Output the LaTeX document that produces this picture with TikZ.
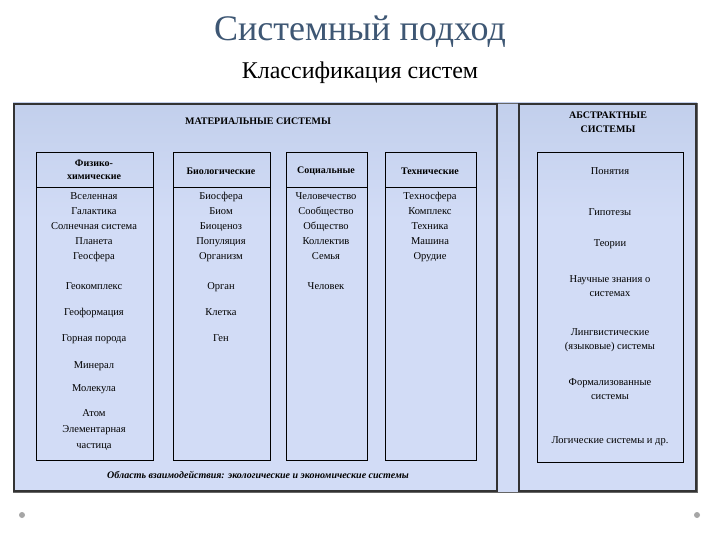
\documentclass[tikz,border=0pt]{standalone}
\usepackage{fontspec}
\setmainfont{Liberation Serif}
\definecolor{panelTop}{HTML}{A8BADB}
\definecolor{panelMid}{HTML}{D2DCF6}
\definecolor{panelBot}{HTML}{9FB2A0}
\definecolor{panelLow}{HTML}{BCC9D0}
\definecolor{titleC}{HTML}{3E5774}
\pgfdeclareverticalshading{panelsh}{100bp}{
  color(0bp)=(panelBot); color(10bp)=(panelLow); color(22bp)=(panelMid); color(60bp)=(panelMid); color(100bp)=(panelTop)}
\begin{document}
\begin{tikzpicture}[x=1pt,y=-1pt,
  panel/.style={draw=black!80,line width=1.2pt,shading=panelsh},
  colbox/.style={draw=black,line width=1pt},
  it/.style={font=\fontsize{10.5}{11}\selectfont,align=center,inner sep=0pt},
  hd/.style={font=\bfseries\fontsize{10}{11}\selectfont,align=center,inner sep=0pt}]
\useasboundingbox[fill=white] (0,0) rectangle (720,540);
\node[font=\fontsize{36}{40}\selectfont,text=titleC] (title) at (360,32) {Системный подход};
\node[font=\fontsize{24}{28}\selectfont] (sub) at (360,73) {Классификация систем};
\shade[draw=black!60,line width=0.8pt,shading=panelsh] (13,103) rectangle (697,492);
\shade[panel] (14,104) rectangle (497,491);
\shade[panel] (519,104) rectangle (696,491);
\node[hd] (mat) at (258,121) {МАТЕРИАЛЬНЫЕ СИСТЕМЫ};
\node[hd] (abs) at (608,122) {АБСТРАКТНЫЕ\\[3pt]СИСТЕМЫ};
\draw[colbox] (36,153) rectangle (153,460); \draw[colbox] (36,188) -- (153,188);
\draw[colbox] (173,153) rectangle (270,460); \draw[colbox] (173,188) -- (270,188);
\draw[colbox] (286,153) rectangle (367,460); \draw[colbox] (286,188) -- (367,188);
\draw[colbox] (385,153) rectangle (476,460); \draw[colbox] (385,188) -- (476,188);
\draw[colbox] (537,153) rectangle (683,462);
\node[hd] (h1) at (94,170) {Физико-\\[2pt]химические};
\node[hd] (h2) at (221,171) {Биологические};
\node[hd] (h3) at (326,171) {Социальные};
\node[hd] (h4) at (430,171) {Технические};
\foreach \t/\y [count=\i] in {Вселенная/197,Галактика/212,Солнечная система/227,Планета/242,Геосфера/257,Геокомплекс/287,Геоформация/313,Горная порода/339,Минерал/366,Молекула/389,Атом/414,Элементарная/430,частица/446}
  \node[it] (p\i) at (94,\y) {\strut\t};
\foreach \t/\y [count=\i] in {Биосфера/197,Биом/212,Биоценоз/227,Популяция/242,Организм/257,Орган/287,Клетка/313,Ген/339}
  \node[it] (b\i) at (221,\y) {\strut\t};
\foreach \t/\y [count=\i] in {Человечество/197,Сообщество/212,Общество/227,Коллектив/242,Семья/257,Человек/287}
  \node[it] (s\i) at (326,\y) {\strut\t};
\foreach \t/\y [count=\i] in {Техносфера/197,Комплекс/212,Техника/227,Машина/242,Орудие/257}
  \node[it] (t\i) at (430,\y) {\strut\t};
\node[it] (a1) at (610,171) {Понятия};
\node[it] (a2) at (610,212) {Гипотезы};
\node[it] (a3) at (610,244) {Теории};
\node[it] (a4) at (610,286) {Научные знания о\\[3pt]системах};
\node[it] (a5) at (610,340) {Лингвистические\\[3pt](языковые) системы};
\node[it] (a6) at (610,389) {Формализованные\\[3pt]системы};
\node[it] (a7) at (610,441) {Логические системы и др.};
\node[font=\bfseries\itshape\fontsize{10}{11}\selectfont,inner sep=0pt] (foot) at (258,475) {Область взаимодействия: экологические и экономические системы};
\fill[gray!70] (22,515) circle (3);
\fill[gray!70] (697,515) circle (3);
\end{tikzpicture}
\end{document}
